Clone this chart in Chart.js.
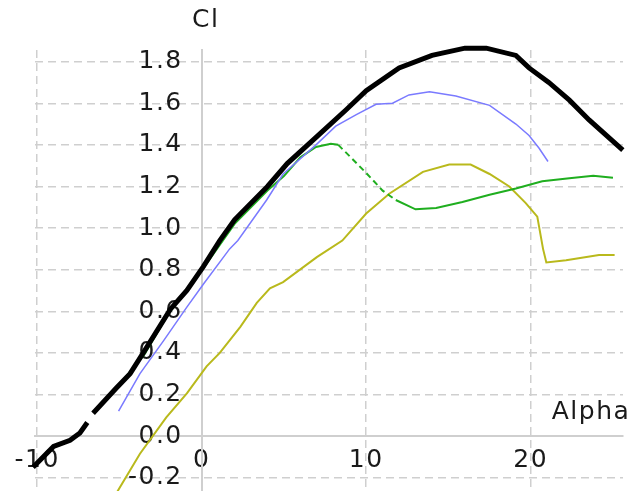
<!DOCTYPE html>
<html>
<head>
<meta charset="utf-8">
<script src="https://cdn.jsdelivr.net/npm/chart.js@4.4.1/dist/chart.umd.min.js"></script>
<style>
  body { margin: 0; background: #fff; }
  #wrap { width: 636px; height: 491px; }
</style>
</head>
<body>
<div id="wrap"><canvas id="graph" width="636" height="491"></canvas></div>
<script>
// polar curves: Cl against Alpha
const alphaBlack = [-10.25, -9.0, -8.0, -7.4, -6.95, -6.8, -6.6, -5.2, -4.35, -3.55, -1.9, -0.9, 0.1, 1.1, 2.0, 4.0, 5.2, 7.0, 8.8, 10.0, 12.0, 14.0, 16.0, 17.3, 19.1, 19.9, 21.1, 22.35, 23.55, 25.6];
const clBlack = [-0.15, -0.05, -0.02, 0.015, 0.065, null, 0.11, 0.23, 0.30, 0.40, 0.61, 0.70, 0.815, 0.94, 1.04, 1.20, 1.31, 1.44, 1.57, 1.66, 1.77, 1.83, 1.865, 1.865, 1.83, 1.77, 1.70, 1.615, 1.52, 1.375];

const alphaBlue = [-5.05, -3.75, -2.3, -0.9, 0.1, 1.7, 2.2, 3.95, 4.95, 6.95, 8.15, 9.4, 10.6, 11.6, 12.6, 13.85, 15.45, 17.5, 19.1, 19.9, 20.5, 21.05];
const clBlue = [0.12, 0.30, 0.46, 0.62, 0.73, 0.90, 0.94, 1.135, 1.26, 1.40, 1.49, 1.545, 1.595, 1.60, 1.64, 1.655, 1.635, 1.59, 1.50, 1.445, 1.385, 1.32];

const alphaGreen = [-5.5, -3.5, -2.0, 0.0, 2.0, 4.0, 5.0, 6.0, 6.95, 7.85, 8.3, 9.0, 10.0, 11.0, 11.8, 13.0, 14.25, 15.85, 17.5, 19.1, 20.7, 22.35, 23.8, 25.0];
const clGreen = [0.2, 0.39, 0.59, 0.795, 1.02, 1.18, 1.25, 1.34, 1.39, 1.405, 1.40, 1.345, 1.265, 1.18, 1.135, 1.09, 1.097, 1.125, 1.16, 1.19, 1.225, 1.24, 1.252, 1.242];

const alphaOlive = [-5.3, -3.75, -2.15, -0.9, 0.3, 1.1, 2.35, 3.35, 4.15, 4.95, 7.0, 8.55, 10.0, 11.4, 13.45, 15.05, 16.35, 17.5, 18.7, 19.7, 20.4, 20.75, 20.95, 22.15, 24.15, 25.1];
const clOlive = [-0.29, -0.085, 0.09, 0.205, 0.335, 0.40, 0.525, 0.64, 0.71, 0.74, 0.86, 0.94, 1.07, 1.165, 1.27, 1.305, 1.305, 1.26, 1.20, 1.12, 1.055, 0.90, 0.835, 0.845, 0.87, 0.87];

const xTicks = [-10, 0, 10, 20];
const yTicks = [-0.2, 0.0, 0.2, 0.4, 0.6, 0.8, 1.0, 1.2, 1.4, 1.6, 1.8];

const pts = (xs, ys) => xs.map((x, i) => ({x: x, y: ys[i]}));

Chart.defaults.font.family = '"DejaVu Sans", Verdana, sans-serif';
Chart.defaults.font.size = 25;
Chart.defaults.color = '#1a1a1a';

const gridColor = '#cfcfcf';

// slightly wider lettering like the original, and the axis names at the axis ends
const axisNames = {
    id: 'axisNames',
    beforeDraw(chart) {
        chart.ctx.letterSpacing = '1.5px';
    },
    afterDraw(chart) {
        const ctx = chart.ctx;
        ctx.save();
        ctx.font = '25px "DejaVu Sans"';
        ctx.fillStyle = '#1a1a1a';
        ctx.textBaseline = 'middle';
        ctx.textAlign = 'center';
        ctx.fillText('Cl', chart.scales.x.getPixelForValue(0) + 4, 20);
        ctx.fillText('Alpha', 591, 412);
        ctx.restore();
    }
};

// axes sit inside the plot, so they take no room and no padding
const noRoom = s => {
    s.paddingLeft = s.paddingRight = s.paddingTop = s.paddingBottom = 0;
    if (s.isHorizontal()) s.height = 0; else s.width = 0;
};

const graph = document.getElementById('graph');
let linegraph = new Chart(graph, {
    type: 'line',
    data: {
        datasets: [{
            label: 'black',
            data: pts(alphaBlack, clBlack),
            borderColor: '#000000',
            borderWidth: 5,
            clip: false
        }, {
            label: 'blue',
            data: pts(alphaBlue, clBlue),
            borderColor: '#7a7aff',
            borderWidth: 1.5
        }, {
            label: 'green',
            data: pts(alphaGreen, clGreen),
            borderColor: '#1fae1f',
            borderWidth: 2,
            segment: {
                borderDash: ctx => (ctx.p0.parsed.x >= 8.3 && ctx.p1.parsed.x <= 11.8) ? [6, 4] : undefined
            }
        }, {
            label: 'olive',
            data: pts(alphaOlive, clOlive),
            borderColor: '#b9b91c',
            borderWidth: 2
        }]
    },
    options: {
        responsive: false,
        animation: false,
        spanGaps: false,
        layout: { padding: { left: 35, right: 13, top: 50, bottom: 0 } },
        elements: {
            point: { radius: 0 },
            line: { tension: 0, fill: false }
        },
        plugins: { legend: { display: false }, tooltip: { enabled: false } },
        scales: {
            x: {
                type: 'linear',
                position: { y: 0 },
                min: -10.13,
                max: 25.61,
                afterFit: noRoom,
                afterBuildTicks: s => { s.ticks = xTicks.map(v => ({value: v})); },
                ticks: { padding: 9, callback: v => String(v) },
                grid: {
                    drawTicks: false,
                    lineWidth: 1.5,
                    color: c => (c.tick && c.tick.value === 0) ? 'rgba(0,0,0,0)' : gridColor
                },
                border: { display: true, color: gridColor, width: 2, dash: [8, 5] }
            },
            y: {
                type: 'linear',
                position: { x: 0 },
                min: -0.264,
                max: 1.856,
                afterFit: noRoom,
                afterBuildTicks: s => { s.ticks = yTicks.map(v => ({value: v})); },
                // labels sit left of the Alpha=0 line, spaces keep the gap
                ticks: { callback: v => v.toFixed(1) + '  ' },
                grid: {
                    drawTicks: false,
                    lineWidth: 1.5,
                    color: c => (c.tick && Math.abs(c.tick.value) < 1e-9) ? 'rgba(0,0,0,0)' : gridColor
                },
                border: { display: true, color: gridColor, width: 2, dash: [8, 5] }
            }
        }
    },
    plugins: [axisNames]
});
</script>
</body>
</html>
